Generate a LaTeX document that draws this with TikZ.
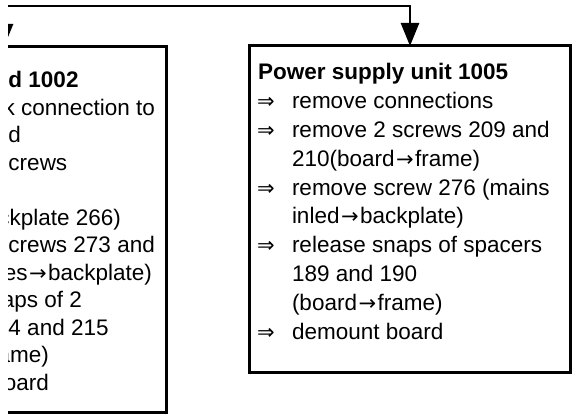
\documentclass[tikz,border=0pt]{standalone}
\usepackage{fontspec}
\setmainfont{Liberation Sans}
\newfontfamily\arrowfont{DejaVu Sans}
\newcommand{\tosym}{\kern1.5pt{\fontsize{21}{21}\arrowfont →}\kern1.5pt}
\usetikzlibrary{arrows.meta}
\begin{document}
\begin{tikzpicture}[x=1pt,y=-1pt,
  box/.style={draw, line width=3pt, inner sep=0pt, outer sep=0pt, anchor=north west},
  conn/.style={line width=2.6pt, -{Triangle[length=23pt,width=18pt]}},
  txt/.style={inner sep=0pt, outer sep=0pt, anchor=base west, font=\fontsize{22.5}{27}\selectfont},
  txte/.style={txt, anchor=base east},
  ttl/.style={txt, font=\fontsize{22.5}{27}\selectfont\bfseries},
  imp/.style={inner sep=0pt, outer sep=0pt, anchor=base west, font=\fontsize{21}{22}\arrowfont},
]
\useasboundingbox (0,0) rectangle (573,419);
\clip (8,-5) rectangle (580,425);
% boxes
\node[box, minimum width=366pt, minimum height=366pt] (mb) at (-200,47) {};
\node[box, minimum width=321pt, minimum height=327pt] (ps) at (249,46) {};
% connectors
\coordinate (lj) at (4,6);
\coordinate (rj) at (410,6);
\draw[conn] (lj) -- (lj |- mb.north);
\draw[conn] (lj) -- (rj) -- (rj |- ps.north);
% left box texts (cut at the edge)
\node[ttl] (m0) at (8.5,88) {d 1002};
\node[txte] (m1) at (155,115.5) {k connection to};
\node[txt] (m2) at (8.5,143) {d};
\node[txt] (m3) at (8.5,170.5) {crews};
\node[txte] (m5) at (121,225.5) {ckplate 266)};
\node[txt] (m6) at (8.5,253) {crews 273 and};
\node[txte] (m7) at (152,280.5) {es\tosym backplate)};
\node[txte] (m8) at (82,308) {aps of 2};
\node[txt] (m9) at (8.5,335.5) {4 and 215};
\node[txte] (m10) at (49,363) {ame)};
\node[txte] (m11) at (49,390.5) {oard};
% right box texts
\node[ttl] (p0) at (258,80) {Power supply unit 1005};
\node[imp] (a1) at (257,108.8) {⇒};
\node[txt] (p1) at (292,108.8) {remove connections};
\node[imp] (a2) at (257,137.6) {⇒};
\node[txt] (p2) at (292,137.6) {remove 2 screws 209 and};
\node[txt] (p3) at (292,166.4) {210(board\tosym frame)};
\node[imp] (a4) at (257,195.2) {⇒};
\node[txt] (p4) at (292,195.2) {remove screw 276 (mains};
\node[txt] (p5) at (292,224) {inled\tosym backplate)};
\node[imp] (a6) at (257,252.8) {⇒};
\node[txt] (p6) at (292,252.8) {release snaps of spacers};
\node[txt] (p7) at (292,281.6) {189 and 190};
\node[txt] (p8) at (292,310.4) {(board\tosym frame)};
\node[imp] (a9) at (257,339.2) {⇒};
\node[txt] (p9) at (292,339.2) {demount board};
\end{tikzpicture}
\end{document}
